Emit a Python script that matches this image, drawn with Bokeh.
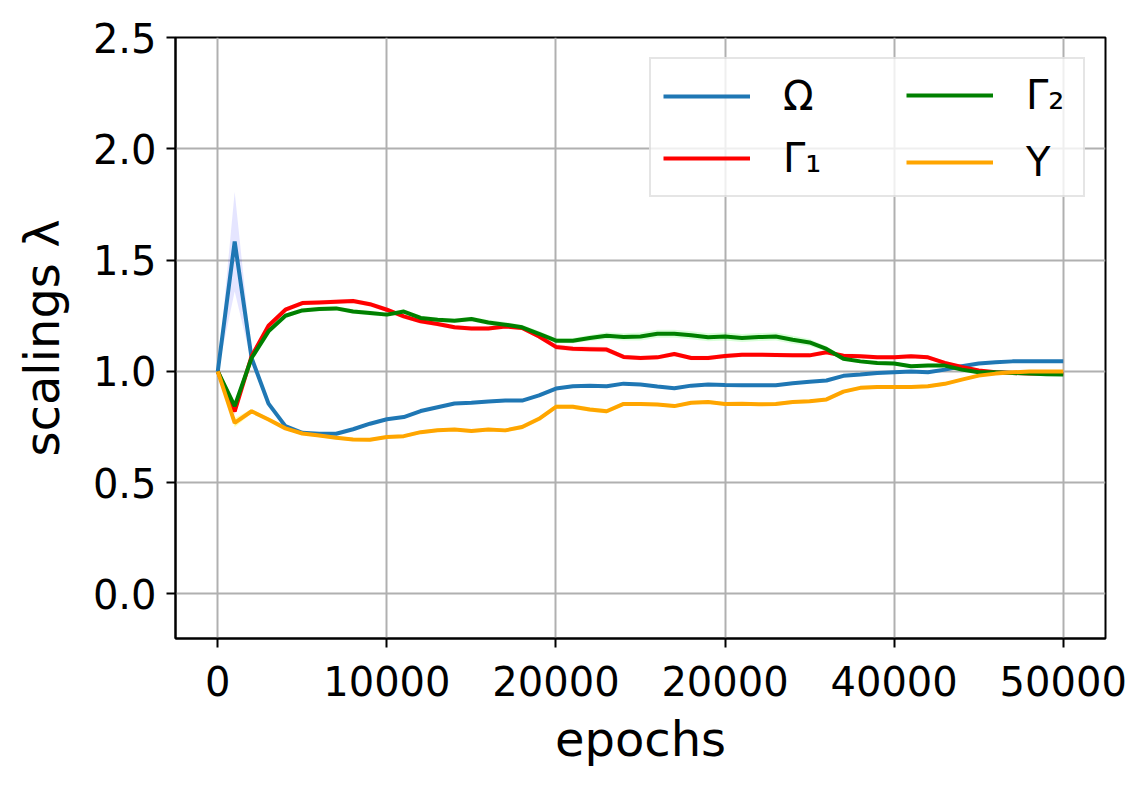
from bokeh.plotting import figure
from bokeh.models import Range1d, FixedTicker, Legend, LegendItem, PrintfTickFormatter
from bokeh.embed import file_html
from bokeh.resources import INLINE

epochs = [i * 1000 for i in range(51)]

omega = [1.0, 1.583, 1.06, 0.855, 0.754, 0.724, 0.72, 0.72, 0.74, 0.765,
         0.785, 0.795, 0.822, 0.839, 0.856, 0.859, 0.865, 0.869, 0.869, 0.892,
         0.923, 0.933, 0.936, 0.933, 0.945, 0.941, 0.932, 0.924, 0.936, 0.941,
         0.939, 0.938, 0.938, 0.938, 0.947, 0.953, 0.959, 0.980, 0.986, 0.993,
         0.996, 0.999, 0.996, 1.008, 1.023, 1.035, 1.041, 1.045, 1.045, 1.045,
         1.045]
omega_std = [0.0, 0.224, 0.02, 0.012, 0.008, 0.007, 0.006, 0.006, 0.006, 0.006,
             0.006, 0.006, 0.006, 0.006, 0.006, 0.006, 0.006, 0.006, 0.006, 0.006,
             0.006, 0.006, 0.006, 0.006, 0.006, 0.006, 0.006, 0.006, 0.006, 0.006,
             0.006, 0.006, 0.006, 0.006, 0.006, 0.006, 0.006, 0.006, 0.006, 0.006,
             0.006, 0.006, 0.006, 0.006, 0.006, 0.006, 0.006, 0.006, 0.006, 0.006,
             0.006]

gamma1 = [1.0, 0.82, 1.068, 1.205, 1.277, 1.307, 1.31, 1.313, 1.316, 1.302,
          1.277, 1.247, 1.225, 1.213, 1.198, 1.193, 1.193, 1.202, 1.195, 1.157,
          1.11, 1.102, 1.10, 1.098, 1.065, 1.06, 1.063, 1.078, 1.06, 1.06,
          1.069, 1.075, 1.075, 1.074, 1.072, 1.072, 1.086, 1.07, 1.068, 1.063,
          1.063, 1.068, 1.063, 1.038, 1.02, 1.004, 0.996, 0.993, 0.99, 0.99,
          0.99]
gamma1_std = [0.0, 0.015, 0.01, 0.01, 0.01, 0.01, 0.01, 0.01, 0.01, 0.01,
              0.01, 0.01, 0.01, 0.01, 0.01, 0.01, 0.01, 0.01, 0.01, 0.01,
              0.012, 0.012, 0.012, 0.012, 0.01, 0.01, 0.01, 0.01, 0.01, 0.01,
              0.01, 0.01, 0.01, 0.01, 0.01, 0.01, 0.01, 0.01, 0.01, 0.01,
              0.01, 0.01, 0.01, 0.008, 0.008, 0.006, 0.006, 0.006, 0.006, 0.006,
              0.006]

gamma2 = [1.0, 0.844, 1.06, 1.18, 1.25, 1.274, 1.28, 1.283, 1.269, 1.262,
          1.255, 1.269, 1.24, 1.232, 1.228, 1.235, 1.22, 1.21, 1.198, 1.169,
          1.138, 1.138, 1.15, 1.16, 1.155, 1.157, 1.169, 1.169, 1.162, 1.153,
          1.157, 1.15, 1.154, 1.157, 1.142, 1.13, 1.101, 1.057, 1.045, 1.038,
          1.035, 1.023, 1.027, 1.026, 1.008, 0.996, 0.996, 0.993, 0.99, 0.987,
          0.986]
gamma2_std = [0.0, 0.012, 0.01, 0.01, 0.01, 0.01, 0.01, 0.01, 0.01, 0.01,
              0.01, 0.01, 0.01, 0.01, 0.01, 0.01, 0.012, 0.012, 0.012, 0.012,
              0.012, 0.012, 0.014, 0.016, 0.016, 0.018, 0.018, 0.018, 0.018, 0.018,
              0.018, 0.018, 0.018, 0.018, 0.018, 0.016, 0.012, 0.01, 0.008, 0.008,
              0.008, 0.008, 0.008, 0.008, 0.006, 0.006, 0.006, 0.006, 0.006, 0.006,
              0.006]

upsilon = [1.0, 0.769, 0.821, 0.784, 0.744, 0.721, 0.712, 0.702, 0.694, 0.693,
           0.705, 0.709, 0.727, 0.736, 0.739, 0.732, 0.739, 0.735, 0.75, 0.787,
           0.841, 0.841, 0.829, 0.821, 0.854, 0.854, 0.851, 0.844, 0.859, 0.862,
           0.854, 0.855, 0.852, 0.854, 0.862, 0.866, 0.874, 0.909, 0.926, 0.93,
           0.93, 0.93, 0.933, 0.944, 0.963, 0.981, 0.99, 0.996, 0.999, 0.999,
           0.999]
upsilon_std = [0.0, 0.02, 0.01, 0.008, 0.008, 0.008, 0.008, 0.008, 0.008, 0.008,
               0.008, 0.008, 0.008, 0.008, 0.008, 0.008, 0.008, 0.008, 0.01, 0.01,
               0.01, 0.01, 0.01, 0.01, 0.008, 0.008, 0.008, 0.008, 0.008, 0.008,
               0.008, 0.008, 0.008, 0.008, 0.008, 0.008, 0.008, 0.008, 0.008, 0.008,
               0.008, 0.008, 0.008, 0.008, 0.006, 0.006, 0.006, 0.006, 0.006, 0.006,
               0.006]

series_names = ["Ω", "Γ₁", "Γ₂", "Υ"]
x_ticks = [0, 10000, 20000, 30000, 40000, 50000]
x_tick_labels = ["0", "10000", "20000", "20000", "40000", "50000"]
y_ticks = [0.0, 0.5, 1.0, 1.5, 2.0, 2.5]

FONT = "DejaVu Sans"

p = figure(frame_width=930, frame_height=601,
           min_border_left=175, min_border_right=27,
           min_border_top=37, min_border_bottom=140,
           x_range=Range1d(-2500, 52500), y_range=Range1d(-0.2, 2.5),
           output_backend="svg", toolbar_location=None,
           background_fill_color="white", border_fill_color="white")

p.outline_line_color = "black"
p.outline_line_width = 2
p.outline_line_alpha = 1.0

series = [
    (omega, omega_std, "#1f77b4", "blue", 0.1),
    (gamma1, gamma1_std, "red", "red", 0.15),
    (gamma2, gamma2_std, "green", "lime", 0.15),
    (upsilon, upsilon_std, "orange", "yellow", 0.3),
]

renderers = []
for vals, std, lc, fc, fa in series:
    lo = [v - s for v, s in zip(vals, std)]
    hi = [v + s for v, s in zip(vals, std)]
    p.varea(x=epochs, y1=lo, y2=hi, fill_color=fc, fill_alpha=fa)
for vals, std, lc, fc, fa in series:
    r = p.line(x=epochs, y=vals, line_color=lc, line_width=4)
    renderers.append(r)

# axes
for ax in (p.xaxis[0], p.yaxis[0]):
    ax.axis_line_color = "black"
    ax.axis_line_width = 2
    ax.major_tick_line_color = "black"
    ax.major_tick_line_width = 2
    ax.major_tick_out = 9
    ax.major_tick_in = 0
    ax.minor_tick_line_color = None
    ax.major_label_text_font = FONT
    ax.major_label_text_font_size = "40px"
    ax.major_label_text_color = "black"
    ax.axis_label_text_font = FONT
    ax.axis_label_text_font_size = "48px"
    ax.axis_label_text_font_style = "normal"
    ax.axis_label_text_color = "black"

p.xaxis.ticker = FixedTicker(ticks=x_ticks)
p.xaxis.major_label_overrides = {t: lab for t, lab in zip(x_ticks, x_tick_labels)}
p.xaxis.axis_label = "epochs"
p.xaxis.major_label_standoff = 18
p.xaxis.axis_label_standoff = 12

p.yaxis.ticker = FixedTicker(ticks=y_ticks)
p.yaxis.formatter = PrintfTickFormatter(format="%.1f")
p.yaxis.axis_label = "scalings λ"
p.yaxis.major_label_standoff = 10
p.yaxis.axis_label_standoff = 20

p.xgrid.ticker = FixedTicker(ticks=x_ticks)
p.ygrid.ticker = FixedTicker(ticks=y_ticks)
for g in (p.xgrid[0], p.ygrid[0]):
    g.grid_line_color = "#b0b0b0"
    g.grid_line_width = 2

items = [LegendItem(label=n, renderers=[r]) for n, r in zip(series_names, renderers)]
common = dict(glyph_width=87, glyph_height=50, label_standoff=33,
              label_height=50, padding=12,
              label_text_font=FONT, label_text_font_size="40px",
              label_text_color="black", location="top_right")
# first column (carries the frame of the whole legend box)
legend_a = Legend(items=items[:2], label_width=288, spacing=12, margin=20,
                  border_line_color="#cccccc", border_line_width=2,
                  background_fill_color="white", background_fill_alpha=0.8,
                  **common)
# second column
legend_b = Legend(items=items[2:], label_width=46, spacing=17, margin=33,
                  border_line_color=None, background_fill_alpha=0.0,
                  **common)
p.add_layout(legend_a, "center")
p.add_layout(legend_b, "center")

open("out.html", "w").write(file_html(p, INLINE))
